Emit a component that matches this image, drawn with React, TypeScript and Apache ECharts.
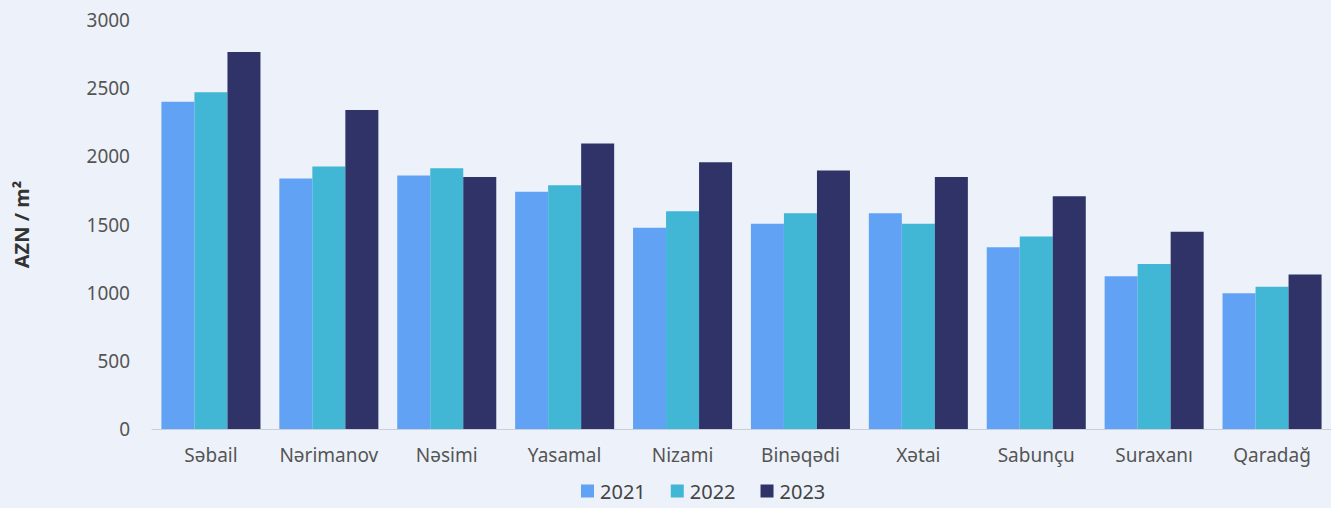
import React, { useEffect, useRef } from "react";
import * as echarts from "echarts";

const categories = ["Səbail", "Nərimanov", "Nəsimi", "Yasamal", "Nizami", "Binəqədi", "Xətai", "Sabunçu", "Suraxanı", "Qaradağ"];
const years = ["2021", "2022", "2023"];
const values2021 = [2400, 1838, 1860, 1740, 1476, 1505, 1583, 1333, 1120, 995];
const values2022 = [2470, 1926, 1912, 1787, 1598, 1583, 1505, 1412, 1211, 1044];
const values2023 = [2765, 2340, 1848, 2095, 1956, 1897, 1848, 1708, 1446, 1134];
const colors = ["#62A2F5", "#41B6D5", "#2F3368"];

export default function App() {
  const ref = useRef<HTMLDivElement>(null);
  useEffect(() => {
    if (!ref.current) return;
    const chart = echarts.init(ref.current, undefined, { renderer: "svg" });
    const font = "'Noto Sans', sans-serif";
    const seriesData = [values2021, values2022, values2023];
    chart.setOption({
      animation: false,
      backgroundColor: "#EDF2FA",
      textStyle: { fontFamily: font },
      grid: { left: 152, right: -2, top: 20, bottom: 79, containLabel: false },
      legend: {
        bottom: 2,
        left: 576,
        itemWidth: 13,
        itemHeight: 13,
        itemGap: 25,
        itemStyle: { borderWidth: 0 },
        icon: "rect",
        textStyle: { fontSize: 20, color: "#444", fontFamily: font, padding: [0, 0, 0, 1] },
        data: years,
      },
      xAxis: {
        type: "category",
        data: categories,
        axisLine: { show: true, lineStyle: { color: "#C9CED8", width: 1 } },
        axisTick: { show: false },
        axisLabel: { fontSize: 19, color: "#555", margin: 16, fontFamily: font, interval: 0 },
      },
      yAxis: {
        type: "value",
        min: 0,
        max: 3000,
        interval: 500,
        name: "AZN / m²",
        nameLocation: "middle",
        nameGap: 121,
        nameRotate: 90,
        nameTextStyle: { fontSize: 20, fontWeight: "bold", color: "#333", fontFamily: font },
        splitLine: { show: false },
        axisLine: { show: false },
        axisTick: { show: false },
        axisLabel: {
          fontSize: 19,
          color: "#555",
          margin: 22,
          fontFamily: font,
          formatter: (v: number) => String(v),
        },
      },
      series: years.map((y, i) => ({
        name: y,
        type: "bar",
        data: seriesData[i],
        barGap: "0%",
        barCategoryGap: "16%",
        itemStyle: { color: colors[i] },
      })),
    });
    return () => chart.dispose();
  }, []);
  return <div ref={ref} style={{ position: "fixed", left: 0, top: 0, width: 1331, height: 508 }} />;
}
